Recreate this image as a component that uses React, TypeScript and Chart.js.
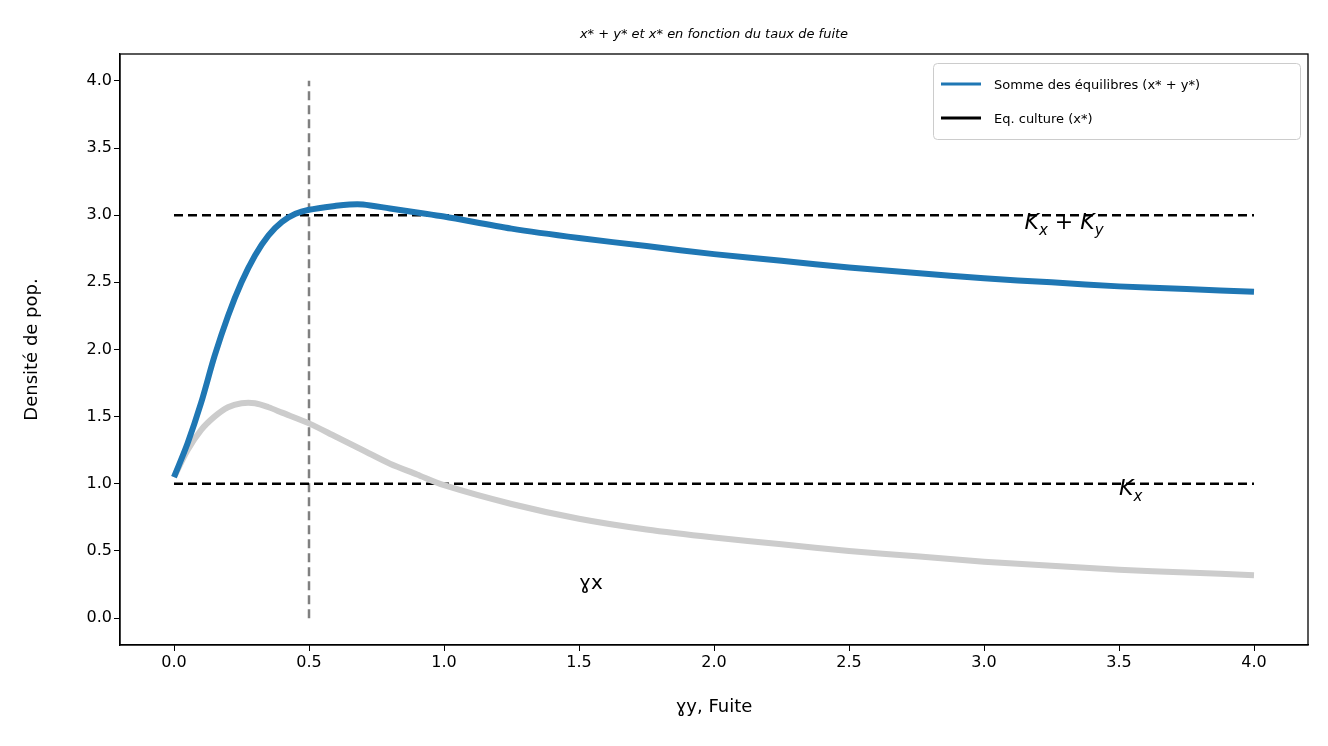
import { useEffect, useRef } from "react";
import Chart from "chart.js/auto";

const sumX = [0, 0.05, 0.1, 0.15, 0.2, 0.25, 0.3, 0.35, 0.4, 0.45, 0.5, 0.6, 0.65, 0.7, 0.8, 0.9, 1.0, 1.25, 1.5, 1.75, 2.0, 2.25, 2.5, 2.75, 3.0, 3.25, 3.5, 3.75, 4.0];
const sumY = [1.05, 1.3, 1.6, 1.95, 2.25, 2.5, 2.7, 2.85, 2.95, 3.01, 3.04, 3.07, 3.08, 3.08, 3.05, 3.02, 2.99, 2.9, 2.83, 2.77, 2.71, 2.66, 2.61, 2.57, 2.53, 2.5, 2.47, 2.45, 2.43];
const cultX = [0, 0.05, 0.1, 0.15, 0.2, 0.25, 0.3, 0.35, 0.4, 0.5, 0.6, 0.7, 0.8, 0.9, 1.0, 1.25, 1.5, 1.75, 2.0, 2.25, 2.5, 2.75, 3.0, 3.25, 3.5, 3.75, 4.0];
const cultY = [1.05, 1.25, 1.4, 1.5, 1.57, 1.6, 1.6, 1.57, 1.53, 1.45, 1.35, 1.25, 1.15, 1.07, 0.99, 0.85, 0.74, 0.66, 0.6, 0.55, 0.5, 0.46, 0.42, 0.39, 0.36, 0.34, 0.32];
const kSum = 3;
const kX = 1;
const vLineX = 0.5;
const ticks = [0, 0.5, 1, 1.5, 2, 2.5, 3, 3.5, 4];

const F = "'DejaVu Sans', sans-serif";

const overlay = {
  id: "overlay",
  afterDraw(chart: any) {
    const c = chart.ctx;
    const xs = chart.scales.x;
    const ys = chart.scales.y;
    const a = chart.chartArea;
    c.save();
    // frame
    c.strokeStyle = "#000";
    c.lineWidth = 1.3;
    c.strokeRect(a.left, a.top, a.right - a.left, a.bottom - a.top);
    c.fillStyle = "#000";
    c.textBaseline = "alphabetic";
    const sub = (x: number, y: number, parts: [string, boolean][]) => {
      let px = x;
      for (const [t, s] of parts) {
        c.font = s ? `italic 15px ${F}` : `italic 22px ${F}`;
        c.fillText(t, px, s ? y + 6 : y);
        px += c.measureText(t).width;
      }
    };
    sub(xs.getPixelForValue(3.15), ys.getPixelForValue(2.9), [["K", false], ["x", true], [" + K", false], ["y", true]]);
    sub(xs.getPixelForValue(3.5), ys.getPixelForValue(0.92), [["K", false], ["x", true]]);
    c.font = `20px ${F}`;
    c.fillText("ɣx", xs.getPixelForValue(1.5), ys.getPixelForValue(0.22));
    c.font = `italic 13px ${F}`;
    c.textAlign = "center";
    c.fillText("x* + y* et x* en fonction du taux de fuite", 714, 38);
    c.textAlign = "left";
    c.strokeStyle = "#ccc";
    c.lineWidth = 1;
    c.fillStyle = "rgba(255,255,255,0.8)";
    c.beginPath();
    c.roundRect(933.5, 63.5, 367, 76, 4);
    c.fill();
    c.stroke();
    const items: [string, string][] = [["#1f77b4", "Somme des équilibres (x* + y*)"], ["#000", "Eq. culture (x*)"]];
    items.forEach(([col, t], i) => {
      const y = 84 + i * 34;
      c.strokeStyle = col;
      c.lineWidth = 3;
      c.beginPath();
      c.moveTo(941, y);
      c.lineTo(981, y);
      c.stroke();
      c.fillStyle = "#000";
      c.font = `13px ${F}`;
      c.fillText(t, 994, y + 5);
    });
    c.restore();
  },
};

export default function App() {
  const ref = useRef<HTMLCanvasElement | null>(null);
  useEffect(() => {
    document.body.style.margin = "0";
    if (!ref.current) return;
    const hline = (k: number) => [{ x: 0, y: k }, { x: 4, y: k }];
    const chart = new Chart(ref.current, {
      type: "line",
      data: {
        datasets: [
          { data: sumX.map((x, i) => ({ x, y: sumY[i] })), borderColor: "#1f77b4", borderWidth: 6, pointRadius: 0, tension: 0.3 },
          { data: cultX.map((x, i) => ({ x, y: cultY[i] })), borderColor: "#cccccc", borderWidth: 6, pointRadius: 0, tension: 0.3 },
          { data: hline(kSum), borderColor: "#000", borderWidth: 2.5, borderDash: [9, 5], pointRadius: 0 },
          { data: hline(kX), borderColor: "#000", borderWidth: 2.5, borderDash: [9, 5], pointRadius: 0 },
          { data: [{ x: vLineX, y: 0 }, { x: vLineX, y: 4 }], borderColor: "#808080", borderWidth: 2.5, borderDash: [9, 5], pointRadius: 0 },
        ],
      },
      options: {
        animation: false,
        responsive: false,
        layout: { padding: { top: 54, right: 20, left: 18, bottom: 24 } },
        plugins: { legend: { display: false }, tooltip: { enabled: false } },
        scales: {
          x: {
            type: "linear",
            min: -0.2,
            max: 4.2,
            afterFit: (s: any) => { s.height = 77; },
            afterBuildTicks: (s: any) => { s.ticks = ticks.map((v) => ({ value: v })); },
            grid: { drawOnChartArea: false, tickLength: 6, color: "#000" },
            border: { color: "#000", width: 1.3 },
            ticks: { color: "#000", font: { family: F, size: 16 }, padding: 2, callback: (v: any) => Number(v).toFixed(1) },
            title: { display: true, text: "ɣy, Fuite", color: "#000", font: { family: F, size: 18 }, padding: { top: 4 } },
          },
          y: {
            min: -0.2,
            max: 4.2,
            afterFit: (s: any) => { s.width = 102; },
            afterBuildTicks: (s: any) => { s.ticks = ticks.map((v) => ({ value: v })); },
            grid: { drawOnChartArea: false, tickLength: 6, color: "#000" },
            border: { color: "#000", width: 1.3 },
            ticks: { color: "#000", font: { family: F, size: 16 }, padding: 2, callback: (v: any) => Number(v).toFixed(1) },
            title: { display: true, text: "Densité de pop.", color: "#000", font: { family: F, size: 18 } },
          },
        },
      },
      plugins: [overlay],
    } as any);
    return () => chart.destroy();
  }, []);
  return <canvas ref={ref} width={1328} height={746} style={{ display: "block", background: "#fff" }} />;
}
